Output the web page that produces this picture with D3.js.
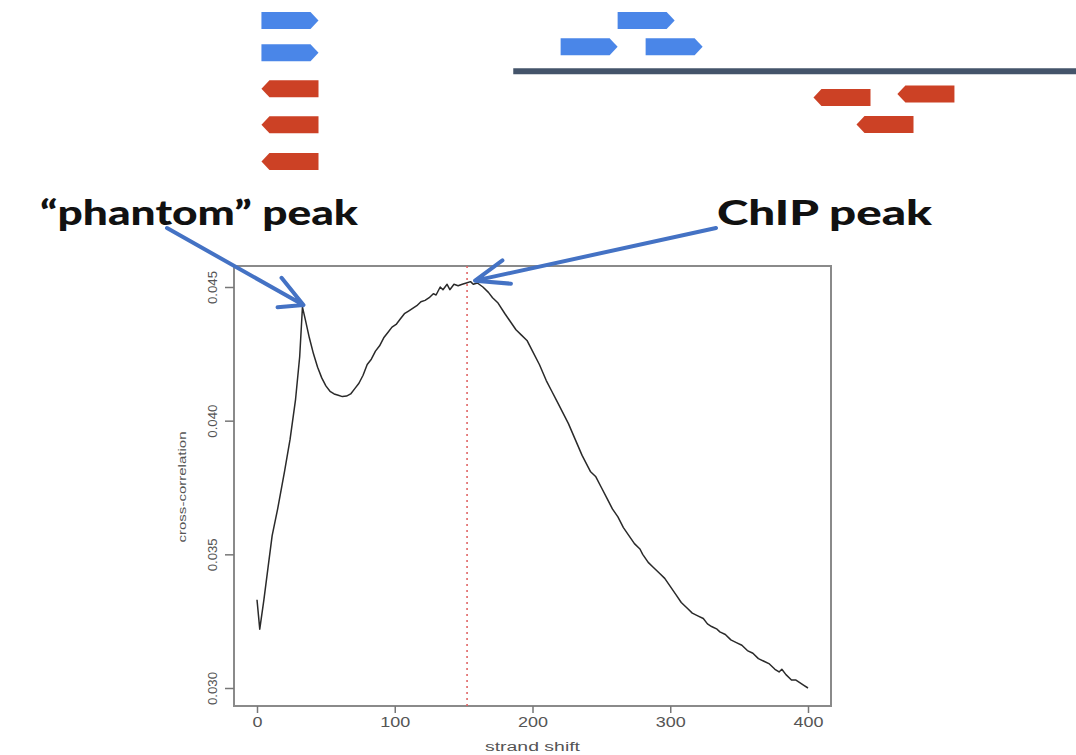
<!DOCTYPE html>
<html>
<head>
<meta charset="utf-8">
<script src="https://cdn.jsdelivr.net/npm/d3@7"></script>
<style>
html,body{margin:0;padding:0;background:#fff;}
svg{display:block;}
</style>
</head>
<body>
<svg id="chart" width="1076" height="755"></svg>
<script>
// ---------- DATA ----------
const strandShift = [0,2,5,8,11,15,20,24,28,31,33,35,38,41,44,47,50,53,56,59,62,65,68,71,74,77,80,83,86,89,92,95,98,101,104,107,110,113,116,119,122,125,128,130,133,135,138,140,143,146,149,152,155,157,160,164,168,171,175,180,184,188,192,196,200,205,210,214,218,222,226,231,236,242,246,250,254,258,262,266,270,274,278,280,284,288,292,296,300,304,308,312,316,320,324,327,330,334,336,340,344,348,352,356,360,364,368,372,376,379,381,384,388,391,394,397,400];
const crossCorrelation = [0.0333,0.0322,0.0333,0.0345,0.0357,0.0367,0.0381,0.0393,0.0408,0.0424,0.04425,0.0438,0.0431,0.0425,0.0420,0.0416,0.0413,0.0411,0.0410,0.04095,0.0409,0.04092,0.0410,0.0412,0.0414,0.0417,0.0421,0.0423,0.0426,0.0428,0.0431,0.0433,0.0435,0.0436,0.0438,0.0440,0.0441,0.0442,0.0443,0.04445,0.0445,0.0446,0.04475,0.0447,0.0450,0.0449,0.0451,0.0449,0.0451,0.04505,0.0451,0.04515,0.0452,0.0451,0.04515,0.0450,0.0448,0.0446,0.0444,0.0440,0.0437,0.0434,0.0432,0.0430,0.0426,0.0421,0.0415,0.0411,0.0407,0.0403,0.0399,0.0393,0.0387,0.0381,0.0379,0.0375,0.0371,0.0367,0.0364,0.0360,0.0357,0.0354,0.0352,0.0350,0.0347,0.0345,0.0343,0.0341,0.0338,0.0335,0.0332,0.0330,0.0328,0.0327,0.0326,0.0324,0.0323,0.0322,0.0321,0.0320,0.0318,0.0317,0.0316,0.0314,0.0313,0.0311,0.0310,0.0309,0.0307,0.0306,0.0307,0.0305,0.0303,0.0303,0.0302,0.0301,0.0300];
const xTicks = [0,100,200,300,400];
const yTicks = [0.030,0.035,0.040,0.045];
const chipPeakShift = 152.5;
const phantomPeakShift = 33;

// reads: genome position (bp) of left end, lane (track units), strand
const readStrand = ["+","+","-","-","-","+","+","+","-","-","-"];
const readStart  = [243,243,243,243,243,574,521,600,756,834,796];
const readLane   = [0,0.92,1.95,2.98,4.03,0,0.75,0.75,2.2,2.1,2.97];
const readLength = 53;
const genomeStart = 477, genomeEnd = 1000;

const labels = {phantom:"\u201Cphantom\u201D peak", chip:"ChIP peak", x:"strand shift", y:"cross-correlation"};

// ---------- DRAW ----------
const svg = d3.select("#chart");

// genome track
const gx = d3.scaleLinear().domain([0,1000]).range([0,1076]);
const laneY = d3.scaleLinear().domain([0,1]).range([12,47]);
const readH = 17, tipW = 8;
const reads = readStart.map((s,i)=>({start:s, lane:readLane[i], strand:readStrand[i]}));
svg.append("g").selectAll("path").data(reads).join("path")
  .attr("d", d=>{
    const x0 = gx(d.start), x1 = gx(d.start+readLength), y0 = laneY(d.lane), y1 = y0+readH, ym=(y0+y1)/2;
    if(d.strand==="+") return `M${x0},${y0}L${x1-tipW},${y0}L${x1},${ym}L${x1-tipW},${y1}L${x0},${y1}Z`;
    return `M${x0},${ym}L${x0+tipW},${y0}L${x1},${y0}L${x1},${y1}L${x0+tipW},${y1}Z`;
  })
  .attr("fill", d=>d.strand==="+"?"#4a86e8":"#cc4125");
svg.append("line")
  .attr("x1", gx(genomeStart)).attr("x2", gx(genomeEnd))
  .attr("y1", laneY(1.69)).attr("y2", laneY(1.69))
  .attr("stroke","#44546a").attr("stroke-width",6);

// plot
const x = d3.scaleLinear().domain([0,400]).range([257,808]);
const y = d3.scaleLinear().domain([0.030,0.045]).range([688,287]);
const frame = {l:234, r:831, t:266, b:706};

const g = svg.append("g");
g.append("rect").attr("x",frame.l).attr("y",frame.t)
  .attr("width",frame.r-frame.l).attr("height",frame.b-frame.t)
  .attr("fill","none").attr("stroke","#8a8a8a").attr("stroke-width",2);

// x axis
const xAxis = g.append("g").attr("transform",`translate(0,${frame.b})`)
  .call(d3.axisBottom(x).tickValues(xTicks).tickSize(7).tickPadding(4).tickFormat(d3.format("d")));
xAxis.select(".domain").attr("stroke","#8a8a8a").attr("stroke-width",2)
  .attr("d", `M${x(0)},0H${x(400)}`);
xAxis.selectAll(".tick line").attr("stroke","#777").attr("stroke-width",1.5);
xAxis.selectAll(".tick text").attr("font-family","Liberation Sans, Arial, sans-serif")
  .attr("font-size",14).attr("fill","#555")
  .attr("textLength", d=>String(d).length*10).attr("lengthAdjust","spacingAndGlyphs");

// y axis
const yAxis = g.append("g").attr("transform",`translate(${frame.l},0)`)
  .call(d3.axisLeft(y).tickValues(yTicks).tickSize(9).tickFormat(d3.format(".3f")));
yAxis.select(".domain").attr("stroke","#8a8a8a").attr("stroke-width",2)
  .attr("d", `M0,${y(0.030)}V${y(0.045)}`);
yAxis.selectAll(".tick line").attr("stroke","#777").attr("stroke-width",1.5);
yAxis.selectAll(".tick text")
  .attr("font-family","Liberation Sans, Arial, sans-serif").attr("font-size",13).attr("fill","#555")
  .attr("x",null).attr("dy",null).attr("text-anchor","middle")
  .attr("transform","translate(-22,0) rotate(-90) translate(0,5)")
  .attr("textLength",33).attr("lengthAdjust","spacingAndGlyphs");

// axis titles
svg.append("text").attr("x",(485+580)/2).attr("y",751).attr("text-anchor","middle")
  .attr("font-family","Liberation Sans, Arial, sans-serif").attr("font-size",12).attr("fill","#555")
  .attr("textLength",95).attr("lengthAdjust","spacingAndGlyphs").text(labels.x);
svg.append("text").attr("transform",`translate(186,487) rotate(-90)`).attr("text-anchor","middle")
  .attr("font-family","Liberation Sans, Arial, sans-serif").attr("font-size",11).attr("fill","#555")
  .attr("textLength",111).attr("lengthAdjust","spacingAndGlyphs").text(labels.y);

// chip peak dotted line
g.append("line").attr("x1",x(chipPeakShift)).attr("x2",x(chipPeakShift))
  .attr("y1",frame.t).attr("y2",frame.b)
  .attr("stroke","#e06666").attr("stroke-width",1.6).attr("stroke-dasharray","2,4");

// curve
const pts = strandShift.map((s,i)=>[s,crossCorrelation[i]]);
g.append("path").datum(pts)
  .attr("d", d3.line().x(d=>x(d[0])).y(d=>y(d[1])))
  .attr("fill","none").attr("stroke","#2a2a2a").attr("stroke-width",1.5).attr("stroke-linejoin","round");

// annotations
svg.append("text").attr("x",40).attr("y",225)
  .attr("font-family","Lato, 'Open Sans', sans-serif").attr("font-weight",900)
  .attr("font-size",34).attr("fill","#111")
  .attr("textLength",318).attr("lengthAdjust","spacingAndGlyphs").text(labels.phantom);
svg.append("text").attr("x",717).attr("y",225)
  .attr("font-family","Lato, 'Open Sans', sans-serif").attr("font-weight",900)
  .attr("font-size",34).attr("fill","#111")
  .attr("textLength",215).attr("lengthAdjust","spacingAndGlyphs").text(labels.chip);

function arrow(x0,y0,x1,y1,len1,ang1,len2,ang2){
  const a = Math.atan2(y1-y0,x1-x0);
  const b1 = [x1-len1*Math.cos(a-ang1), y1-len1*Math.sin(a-ang1)];
  const b2 = [x1-len2*Math.cos(a+ang2), y1-len2*Math.sin(a+ang2)];
  svg.append("path")
    .attr("d",`M${x0},${y0}L${x1},${y1}M${b1[0]},${b1[1]}L${x1},${y1}L${b2[0]},${b2[1]}`)
    .attr("fill","none").attr("stroke","#4472c4").attr("stroke-width",4)
    .attr("stroke-linecap","round").attr("stroke-linejoin","round");
}
arrow(167,228, x(phantomPeakShift)+1, y(0.04425)-2, 26,0.6, 35,0.38);
arrow(716,228, x(chipPeakShift)+8, y(0.0452)-1, 34,0.42, 36,0.3);
</script>
</body>
</html>
